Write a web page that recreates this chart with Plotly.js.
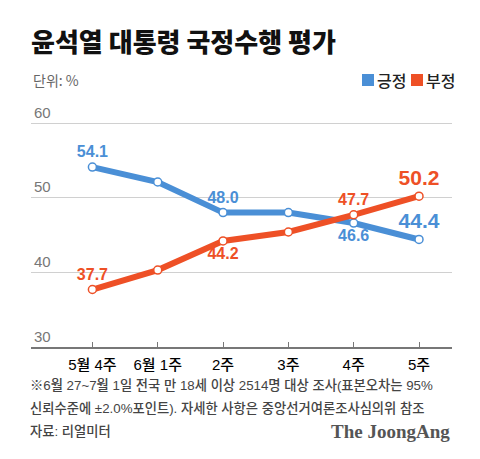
<!DOCTYPE html>
<html>
<head>
<meta charset="utf-8">
<script src="https://cdn.plot.ly/plotly-3.0.1.min.js"></script>
<style>
  html, body { margin: 0; padding: 0; background: #fff; }
  #chart { width: 480px; height: 459px; }
</style>
</head>
<body>
<div id="chart"></div>
<script>
// ---- data ----
const weeks = ['5월 4주', '6월 1주', '2주', '3주', '4주', '5주'];
const approve = [54.1, 52.1, 48.0, 48.0, 46.6, 44.4];        // 긍정
const disapprove = [37.7, 40.3, 44.2, 45.4, 47.7, 50.2];     // 부정
const approveLabelPos = ['top center', '', 'top center', '', 'bottom center', 'top center'];
const disapproveLabelPos = ['top center', '', 'bottom center', '', 'top center', 'top center'];
const yTicks = [30, 40, 50, 60];
const seriesNames = ['긍정', '부정'];

const BLUE = '#4a8fd6';
const RED = '#ee5026';
const SANS = 'Liberation Sans, Noto Sans CJK KR, sans-serif';
const KR = 'Noto Sans CJK KR, sans-serif';

// plot box in pixels (top extended above the 60 line so its label fits inside)
const L = 31, R = 452, T = 90, B = 347;
const W = 480, H = 459;
const PX_PER_UNIT = (347 - 123) / 30;
const Y_MAX = 30 + (B - T) / PX_PER_UNIT;
const px = x => (x - L) / (R - L);
const py = y => (B - y) / (B - T);

function labels(vals, pos) {
  return vals.map((v, i) => pos[i] ? v.toFixed(1) : '');
}
function sizes(vals) {
  return vals.map((v, i) => i === vals.length - 1 ? 21 : 16);
}

const traces = [
  {
    x: weeks, y: approve, name: seriesNames[0], type: 'scatter',
    mode: 'lines+markers+text',
    line: { color: BLUE, width: 6 },
    marker: { size: 8, color: '#fff', line: { color: BLUE, width: 1.5 } },
    text: labels(approve, approveLabelPos),
    textposition: approveLabelPos.map(p => p || 'top center'),
    textfont: { family: SANS, size: sizes(approve), color: BLUE, weight: 'bold' },
    cliponaxis: false, hoverinfo: 'skip', showlegend: false
  },
  {
    x: weeks, y: disapprove, name: seriesNames[1], type: 'scatter',
    mode: 'lines+markers+text',
    line: { color: RED, width: 6 },
    marker: { size: 8, color: '#fff', line: { color: RED, width: 1.5 } },
    text: labels(disapprove, disapproveLabelPos),
    textposition: disapproveLabelPos.map(p => p || 'top center'),
    textfont: { family: SANS, size: sizes(disapprove), color: RED, weight: 'bold' },
    cliponaxis: false, hoverinfo: 'skip', showlegend: false
  }
];

const layout = {
  width: W, height: H,
  margin: { l: L, r: W - R, t: T, b: H - B, pad: 0 },
  paper_bgcolor: '#fff', plot_bgcolor: 'rgba(0,0,0,0)',
  showlegend: false,
  title: {
    text: '윤석열 대통령 국정수행 평가',
    font: { family: KR, size: 26, color: '#111', weight: 900 },
    xref: 'paper', x: 0, xanchor: 'left',
    yref: 'container', y: 1 - 43 / H, yanchor: 'middle'
  },
  xaxis: {
    type: 'category',
    range: [-0.94, 5.505],
    showgrid: false, zeroline: false,
    showline: true, linecolor: '#777', linewidth: 2,
    ticks: 'inside', ticklen: 5, tickwidth: 1, tickcolor: '#777',
    ticklabelstandoff: 3,
    tickfont: { family: SANS, size: 15, color: '#000', weight: 500 },
    fixedrange: true
  },
  yaxis: {
    range: [30, Y_MAX],
    tickvals: yTicks, ticktext: yTicks.map(String),
    showgrid: true, gridcolor: '#d0d0d0', gridwidth: 1,
    zeroline: false, showline: false, ticks: '',
    ticklabelposition: 'inside top',
    ticklabelstandoff: 0,
    tickfont: { family: SANS, size: 15, color: '#777' },
    fixedrange: true
  },
  shapes: [
    { type: 'rect', xref: 'paper', yref: 'paper', x0: px(362), x1: px(374), y0: py(86), y1: py(74),
      fillcolor: BLUE, line: { width: 0 } },
    { type: 'rect', xref: 'paper', yref: 'paper', x0: px(411), x1: px(423), y0: py(86), y1: py(74),
      fillcolor: RED, line: { width: 0 } }
  ],
  annotations: [
    { text: '단위: %', xref: 'paper', yref: 'paper', x: px(31), y: py(80), xanchor: 'left', yanchor: 'middle',
      showarrow: false, font: { family: KR, size: 14, color: '#666' } },
    { text: seriesNames[0], xref: 'paper', yref: 'paper', x: px(374.5), y: py(80), xanchor: 'left', yanchor: 'middle',
      showarrow: false, font: { family: KR, size: 16, color: '#222', weight: 500 } },
    { text: seriesNames[1], xref: 'paper', yref: 'paper', x: px(423.5), y: py(80), xanchor: 'left', yanchor: 'middle',
      showarrow: false, font: { family: KR, size: 16, color: '#222', weight: 500 } },
    { text: '※6월 27~7월 1일 전국 만 18세 이상 2514명 대상 조사(표본오차는 95%', xref: 'paper', yref: 'paper',
      x: px(28), y: py(385), xanchor: 'left', yanchor: 'middle', showarrow: false,
      font: { family: SANS, size: 13.3, color: '#444', weight: 500 } },
    { text: '신뢰수준에 ±2.0%포인트). 자세한 사항은 중앙선거여론조사심의위 참조', xref: 'paper', yref: 'paper',
      x: px(28), y: py(408), xanchor: 'left', yanchor: 'middle', showarrow: false,
      font: { family: SANS, size: 13.3, color: '#444', weight: 500 } },
    { text: '자료: 리얼미터', xref: 'paper', yref: 'paper',
      x: px(28), y: py(431), xanchor: 'left', yanchor: 'middle', showarrow: false,
      font: { family: SANS, size: 13.3, color: '#444', weight: 500 } },
    { text: 'The JoongAng', xref: 'paper', yref: 'paper',
      x: px(452), y: py(431), xanchor: 'right', yanchor: 'middle', showarrow: false,
      font: { family: 'Liberation Serif, DejaVu Serif, serif', size: 19, color: '#555', weight: 'bold' } }
  ]
};

Plotly.newPlot('chart', traces, layout, { staticPlot: true, displayModeBar: false });
</script>
</body>
</html>
